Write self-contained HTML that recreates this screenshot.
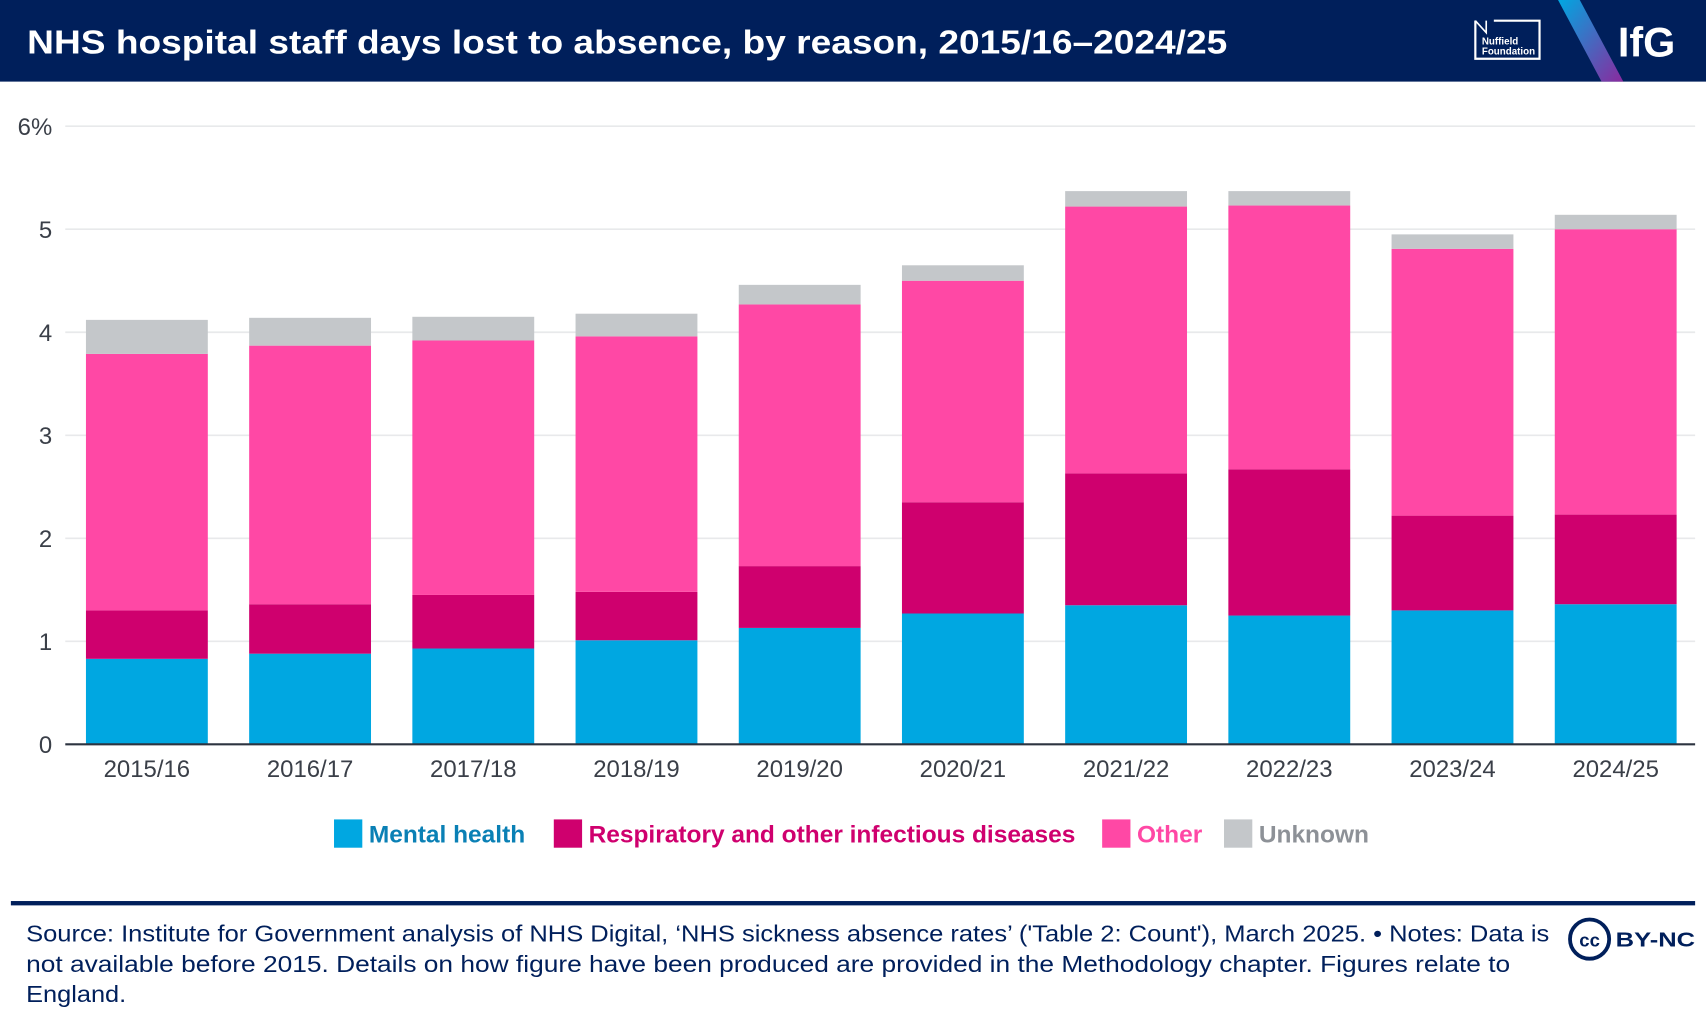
<!DOCTYPE html>
<html><head><meta charset="utf-8"><style>
html,body{margin:0;padding:0;background:#fff;overflow:hidden}
#wrap{width:1568px;height:941px;transform:scale(1.08801,1.08820);transform-origin:0 0;position:relative;font-family:"Liberation Sans",sans-serif}
</style></head><body>
<div id="wrap">
<svg id="svg" width="1568" height="941" xmlns="http://www.w3.org/2000/svg">
<defs><linearGradient id="g1" x1="0" y1="0" x2="1" y2="1"><stop offset="0" stop-color="#00a7e1"/><stop offset="1" stop-color="#8a2a9e"/></linearGradient></defs>
<rect x="0" y="0" width="1568" height="75" fill="#001f5b"/>
<text x="25" y="49" fill="#fff" font-size="31" font-weight="bold" textLength="1103" lengthAdjust="spacingAndGlyphs">NHS hospital staff days lost to absence, by reason, 2015/16–2024/25</text>
<g>
<path d="M1356,19 L1356,54 L1415,54 L1415,19 L1373,19" fill="none" stroke="#fff" stroke-width="2"/>
<path d="M1356,19 L1356,30 M1356,19 L1366,30 L1366,19" fill="none" stroke="#fff" stroke-width="1.5"/>
<text x="1362" y="41" fill="#fff" font-size="9" font-weight="bold">Nuffield</text>
<text x="1362" y="50" fill="#fff" font-size="9" font-weight="bold">Foundation</text>
</g>
<polygon points="1432,0 1452,0 1492,75 1472,75" fill="url(#g1)"/>
<text x="1487" y="52" fill="#fff" font-size="38" font-weight="bold">IfG</text>
<g id="grid"></g><g id="bars"></g><g id="xl"></g>
<line x1="60" y1="684" x2="1558" y2="684" stroke="#2d3440" stroke-width="2"/>
<g id="legend"></g>
<rect x="10" y="828" width="1548" height="4" fill="#001f5b"/>
<g fill="#001f5b" font-size="21.5">
<text x="24" y="865" textLength="1400" lengthAdjust="spacingAndGlyphs">Source: Institute for Government analysis of NHS Digital, ‘NHS sickness absence rates’ ('Table 2: Count'), March 2025. • Notes: Data is</text>
<text x="24" y="893" textLength="1364" lengthAdjust="spacingAndGlyphs">not available before 2015. Details on how figure have been produced are provided in the Methodology chapter. Figures relate to</text>
<text x="24" y="921" textLength="92" lengthAdjust="spacingAndGlyphs">England.</text>
</g>
<g>
<circle cx="1461" cy="863" r="18" fill="none" stroke="#001f5b" stroke-width="3.5"/>
<text x="1461" y="870" text-anchor="middle" fill="#001f5b" font-size="17" font-weight="bold">cc</text>
<text x="1485" y="870" fill="#001f5b" font-size="19" font-weight="bold" textLength="73" lengthAdjust="spacingAndGlyphs">BY-NC</text>
</g>
</svg>
</div>
<script>
const categories=["2015/16","2016/17","2017/18","2018/19","2019/20","2020/21","2021/22","2022/23","2023/24","2024/25"];
const mentalHealth=[0.83,0.88,0.93,1.01,1.13,1.27,1.35,1.25,1.30,1.36];
const respiratory=[0.47,0.48,0.52,0.47,0.60,1.08,1.28,1.42,0.92,0.87];
const other=[2.49,2.51,2.47,2.48,2.54,2.15,2.59,2.56,2.59,2.77];
const unknown=[0.33,0.27,0.23,0.22,0.19,0.15,0.15,0.14,0.14,0.14];
const yTicks=[0,1,2,3,4,5,6];
const yTickLabels=["0","1","2","3","4","5","6%"];
const seriesNames=["Mental health","Respiratory and other infectious diseases","Other","Unknown"];
const NS="http://www.w3.org/2000/svg";
const y=v=>684-v*94.67;
const xc=i=>135+i*150;
function mk(tag,attrs,parent){const e=document.createElementNS(NS,tag);for(const k in attrs)e.setAttribute(k,attrs[k]);parent.appendChild(e);return e;}
const grid=document.getElementById('grid');
yTicks.forEach((t,i)=>{
  if(t>0){const l=mk('line',{x1:60,x2:1558,y1:y(t),y2:y(t),stroke:'#e8e9eb','stroke-width':1.5},grid);
  
  }
  const tx=mk('text',{x:48,y:y(t)+8,'text-anchor':'end','font-size':22,fill:'#3a3f48'},grid);
  tx.textContent=yTickLabels[i];
  
  
});
const series=[mentalHealth,respiratory,other,unknown];
const colors=["#00a7e1","#cf006e","#ff48a5","#c4c7ca"];
const names=["bar-mental-health","bar-respiratory","bar-other","bar-unknown"];
const bars=document.getElementById('bars');
categories.forEach((c,i)=>{
  let base=0;
  series.forEach((s,k)=>{
    const top=base+s[i];
    const r=mk('rect',{x:xc(i)-56,width:112,y:y(top),height:y(base)-y(top),fill:colors[k]},bars);
    
    
    base=top;
  });
  const t=mk('text',{x:xc(i),y:714,'text-anchor':'middle','font-size':22,fill:'#3a3f48'},document.getElementById('xl'));
  t.textContent=c;
  
  
});
const legend=document.getElementById('legend');
const lx=[307,509,1013,1125];
const tcol=["#0a80b5","#cf006e","#ff48a5","#8d9197"];
seriesNames.forEach((n,k)=>{
  const r=mk('rect',{x:lx[k],y:753,width:26,height:26,fill:colors[k]},legend);
  
  
  const t=mk('text',{x:lx[k]+32,y:774,'font-size':22.5,'font-weight':'bold',fill:tcol[k]},legend);
  t.textContent=n;
  
  
});
</script>
</body></html>
